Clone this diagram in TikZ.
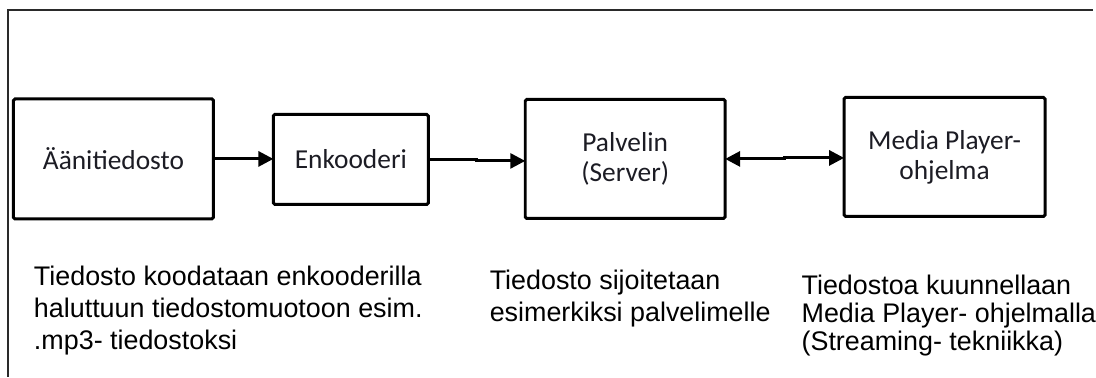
\documentclass[tikz,border=0pt]{standalone}
\usepackage{fontspec}
\setmainfont{Liberation Sans}
\newfontfamily\boxfont{Carlito}
\usetikzlibrary{arrows.meta}
\definecolor{boxtext}{HTML}{1C1C24}
\definecolor{framegray}{HTML}{2A2A2A}

\begin{document}
\begin{tikzpicture}[x=1bp,y=-1bp,
  blockbox/.style={draw=black, line width=3bp, rounded corners=1.5bp,
    inner sep=0pt, outer sep=0pt, align=center, text=boxtext,
    font=\boxfont\fontsize{27.5}{30}\selectfont},
  flow/.style={line width=3bp, -{Triangle[length=15bp,width=15bp]}},
  twoway/.style={line width=3bp, {Triangle[length=15bp,width=15bp]}-{Triangle[length=15bp,width=15bp]}},
  note/.style={inner sep=0pt, outer sep=0pt, align=left, text=black}
]
\fill[white] (0,0) rectangle (1096,377);

% outer frame: left and top edges
\draw[framegray, line width=1.5bp] (8,377) -- (8,10) -- (1094,10);

% processing chain
\node[blockbox, minimum width=200bp, minimum height=120bp] (src) at (113.5,159) {Äänitiedosto};
\node[blockbox, minimum width=155bp, minimum height=90bp] (enc) at (351,159.5) {Enkooderi};
\node[blockbox, minimum width=200bp, minimum height=119bp] (srv) at (625.5,159) {Palvelin\\(Server)};
\node[blockbox, minimum width=201bp, minimum height=119bp] (ply) at (945,157) {Media Player-\\ohjelma};

% connectors with their small jogs
\coordinate (jog1) at (477,161);
\coordinate (jog2) at (785,158);
\draw[flow] (src.east) -- (src.east -| enc.west);
\draw[flow] (enc.east) -| (jog1) -- (jog1 -| srv.west);
\draw[twoway] (srv.east) -| (jog2) -- (jog2 -| ply.west);

% explanations under the chain (anchored at the baseline of their last line)
\node[note, anchor=base west, font=\fontsize{27}{32.5}\selectfont] (n1) at (34,350)
  {Tiedosto koodataan enkooderilla\\haluttuun tiedostomuotoon esim.\\.mp3- tiedostoksi};
\node[note, anchor=base west, font=\fontsize{27}{32}\selectfont] (n2) at (490,322)
  {Tiedosto sijoitetaan\\esimerkiksi palvelimelle};
\node[note, anchor=base west, font=\fontsize{27}{28.5}\selectfont] (n3) at (802,351)
  {Tiedostoa kuunnellaan\\Media Player- ohjelmalla\\(Streaming- tekniikka)};
\end{tikzpicture}
\end{document}
